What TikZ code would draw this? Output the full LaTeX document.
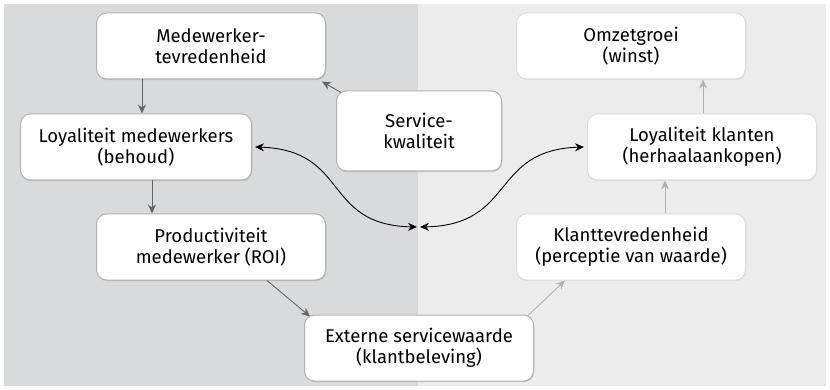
\documentclass[tikz,border=0pt]{standalone}
\usepackage{fontspec}
\setmainfont{Fira Sans}
\usepackage{tikz}
\usetikzlibrary{arrows.meta,shadows}
\definecolor{bgleft}{RGB}{217,218,220}
\definecolor{bgright}{RGB}{235,236,235}
\definecolor{darkarrow}{RGB}{100,100,102}
\definecolor{lightarrow}{RGB}{175,176,177}
\tikzset{
  box/.style={rounded corners=10pt, fill=white, align=center, inner sep=0pt,
    minimum width=229pt, minimum height=66pt,
    font=\fontsize{18.5}{21.5}\selectfont},
  lbox/.style={box, draw=gray!60, line width=1pt,
    drop shadow={opacity=0.3, shadow xshift=0.8pt, shadow yshift=-1.2pt}},
  rbox/.style={box, draw=gray!28, line width=1pt,
    drop shadow={opacity=0.12, shadow xshift=0.8pt, shadow yshift=-1.2pt}},
  darklink/.style={draw=darkarrow, line width=0.9pt, -{Stealth[length=9pt,width=8pt]}},
  lightlink/.style={draw=lightarrow, line width=0.9pt, -{Stealth[length=9pt,width=8pt]}},
  curvelink/.style={draw=black, line width=0.9pt, {Stealth[length=9pt,width=8pt]}-{Stealth[length=9pt,width=8pt]}}
}
\begin{document}
\begin{tikzpicture}[x=1pt, y=-1pt]
    \useasboundingbox (0,0) rectangle (830,390);
    % Background halves
    \fill[bgleft] (4,4) rectangle (418,386);
    \fill[bgright] (418,4) rectangle (826,386);
    % Employee side
    \node[lbox] (mt) at (211,46) {Medewerker-\\tevredenheid};
    \node[lbox, minimum width=231pt] (lm) at (136,147) {Loyaliteit medewerkers\\(behoud)};
    \node[lbox] (pm) at (211,247) {Productiviteit\\medewerker (ROI)};
    \node[lbox, minimum width=165pt, minimum height=80pt] (sk) at (419,131) {Service-\\kwaliteit};
    % Customer side
    \node[rbox] (oz) at (631,46) {Omzetgroei\\(winst)};
    \node[rbox] (lk) at (702,147) {Loyaliteit klanten\\(herhaalaankopen)};
    \node[rbox] (kt) at (631,247) {Klanttevredenheid\\(perceptie van waarde)};
    \node[lbox] (ev) at (419,348) {Externe servicewaarde\\(klantbeleving)};
    % Links on the left
    \draw[darklink] ([xshift=-69pt]mt.south) -- ([xshift=6pt]lm.north);
    \draw[darklink] ([xshift=16pt]lm.south) -- ([xshift=-59pt]pm.north);
    \draw[darklink] ([xshift=56pt]pm.south) -- ([xshift=6pt,yshift=-2pt]ev.north west);
    \draw[darklink] ([xshift=5pt,yshift=-2pt]sk.north west) -- ([xshift=-4pt,yshift=-2pt]mt.south east);
    % Links on the right
    \draw[lightlink] ([xshift=-6pt,yshift=-1pt]ev.north east) -- ([xshift=-66pt]kt.south);
    \draw[lightlink] ([xshift=34pt]kt.north) -- ([xshift=-37pt]lk.south);
    \draw[lightlink] ([xshift=1pt]lk.north) -- ([xshift=72pt]oz.south);
    % Curves to the middle
    \coordinate (midl) at (417,227);
    \coordinate (midr) at (420,227);
    \draw[curvelink] ([xshift=3pt]lm.east) .. controls (350,150) and (322,225) .. (midl);
    \draw[curvelink] ([xshift=-3pt]lk.west) .. controls (490,150) and (516,225) .. (midr);
\end{tikzpicture}
\end{document}
